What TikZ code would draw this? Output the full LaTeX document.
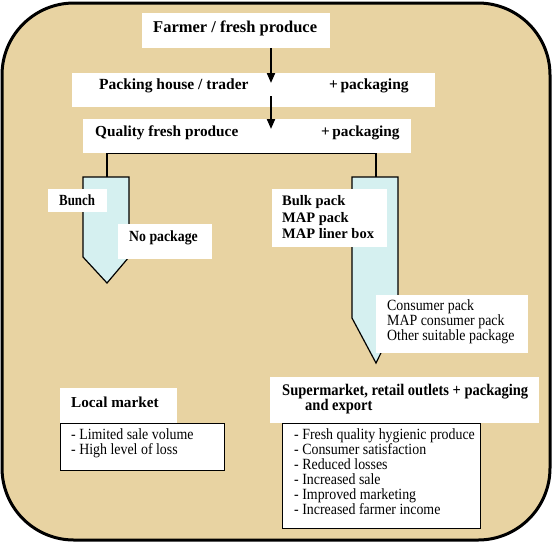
\documentclass[tikz,border=0pt]{standalone}
\usepackage{fontspec}
\setmainfont{Liberation Serif}
\usetikzlibrary{arrows.meta}
\definecolor{papyrus}{RGB}{232,211,162}
\definecolor{pentfill}{RGB}{213,240,240}
\newcommand\tallify[1]{\scalebox{1}[1.12]{#1}}
\begin{document}
\begin{tikzpicture}[x=1pt,y=-1pt,
  wbox/.style={fill=white, draw=none, inner sep=0pt, anchor=north west},
  lbox/.style={fill=white, draw=black, line width=0.8pt, inner sep=0pt, anchor=north west},
  ttl/.style={font=\bfseries\fontsize{#1}{#1}\selectfont, inner sep=0pt, anchor=base west},
  ttl/.default=15,
  txt/.style={font=\fontsize{13.9}{15}\selectfont, inner sep=0pt, anchor=base west},
  arr/.style={line width=2pt, -{Triangle[width=8pt,length=10pt]}},
  pent/.style={fill=pentfill, draw=black, line width=1.2pt, line join=miter},
  conn/.style={line width=1.5pt}]
\useasboundingbox (0,0) rectangle (553,542);
% outer frame
\draw[line width=3pt, fill=papyrus, rounded corners=72pt] (2,3) rectangle (550,540);

% top boxes
\node[wbox, minimum width=188pt, minimum height=35pt] (farmer) at (142,13) {};
\node[ttl=16.5] (tfarmer) at (153,32) {Farmer / fresh produce};
\node[wbox, minimum width=363pt, minimum height=34pt] (packing) at (72,73) {};
\node[ttl=15.5] (tpacking) at (99,89.5) {Packing house / trader};
\node[ttl=15.5] (tpack1) at (329,89.5) {+\,packaging};
\node[wbox, minimum width=328pt, minimum height=34pt] (quality) at (83,119) {};
\node[ttl=15.3] (tquality) at (95,136.5) {Quality fresh produce};
\node[ttl=15.3] (tpack2) at (321,136.5) {+\,packaging};

% arrows
\coordinate (a1) at (271,83);
\coordinate (a2s) at (271,96);
\coordinate (a2) at (271,129);
\draw[arr] (farmer.south -| a1) -- (a1);
\draw[arr] (a2s) -- (a2);

% branch pentagons
\coordinate (ltop) at (107,177);
\coordinate (rtop) at (376,177);
\draw[pent] (83,177) -- (129,177) -- (129,257) -- (107,283) -- (83,257) -- cycle;
\draw[pent] (352,177) -- (398,177) -- (398,318) -- (376,363) -- (352,318) -- cycle;
\draw[conn] (ltop) |- (quality.south) -| (rtop);

% left labels
\node[wbox, minimum width=59pt, minimum height=23pt] (bunch) at (48,189) {};
\node[ttl=15.5] (tbunch) at (59,205.7) {\scalebox{0.83}[1]{Bunch}};
\node[wbox, minimum width=94pt, minimum height=35pt] (nopack) at (118,224) {};
\node[ttl=15.5] (tnopack) at (129,241.7) {\scalebox{0.89}[1]{No package}};

% right labels
\node[wbox, minimum width=115pt, minimum height=58pt] (bulk) at (272,189) {};
\node[ttl=14.5] (tbulk1) at (282,205.7) {Bulk pack};
\node[ttl=14.5] (tbulk2) at (282,222) {MAP pack};
\node[ttl=14.5] (tbulk3) at (282,238) {MAP liner box};
\node[wbox, minimum width=152pt, minimum height=58pt] (consumer) at (376,295) {};
\node[txt] (tcons1) at (387,310) {\tallify{Consumer pack}};
\node[txt] (tcons2) at (387,325) {\tallify{MAP consumer pack}};
\node[txt] (tcons3) at (387,340) {\tallify{Other suitable package}};

% local market
\node[wbox, minimum width=117pt, minimum height=35pt] (local) at (60,388) {};
\node[ttl=15.2] (tlocal) at (71,407.3) {Local market};
\node[lbox, minimum width=164pt, minimum height=47pt] (limited) at (60,423) {};
\node[txt] (tlim1) at (71,439.3) {\tallify{- Limited sale volume}};
\node[txt] (tlim2) at (71,454.3) {\tallify{- High level of loss}};

% supermarket
\node[wbox, minimum width=269pt, minimum height=46pt] (super) at (270,377) {};
\node[ttl=14.5] (tsuper1) at (282,395) {\tallify{Supermarket, retail outlets + packaging}};
\node[ttl=14.5] (tsuper2) at (305,410.5) {\tallify{and export}};
\node[lbox, minimum width=198pt, minimum height=105pt] (benefit) at (282,423) {};
\node[txt] (tb1) at (294,439.3) {\tallify{- Fresh quality hygienic produce}};
\node[txt] (tb2) at (294,454.3) {\tallify{- Consumer satisfaction}};
\node[txt] (tb3) at (294,469.3) {\tallify{- Reduced losses}};
\node[txt] (tb4) at (294,484.3) {\tallify{- Increased sale}};
\node[txt] (tb5) at (294,499.3) {\tallify{- Improved marketing}};
\node[txt] (tb6) at (294,514.3) {\tallify{- Increased farmer income}};
\end{tikzpicture}
\end{document}
